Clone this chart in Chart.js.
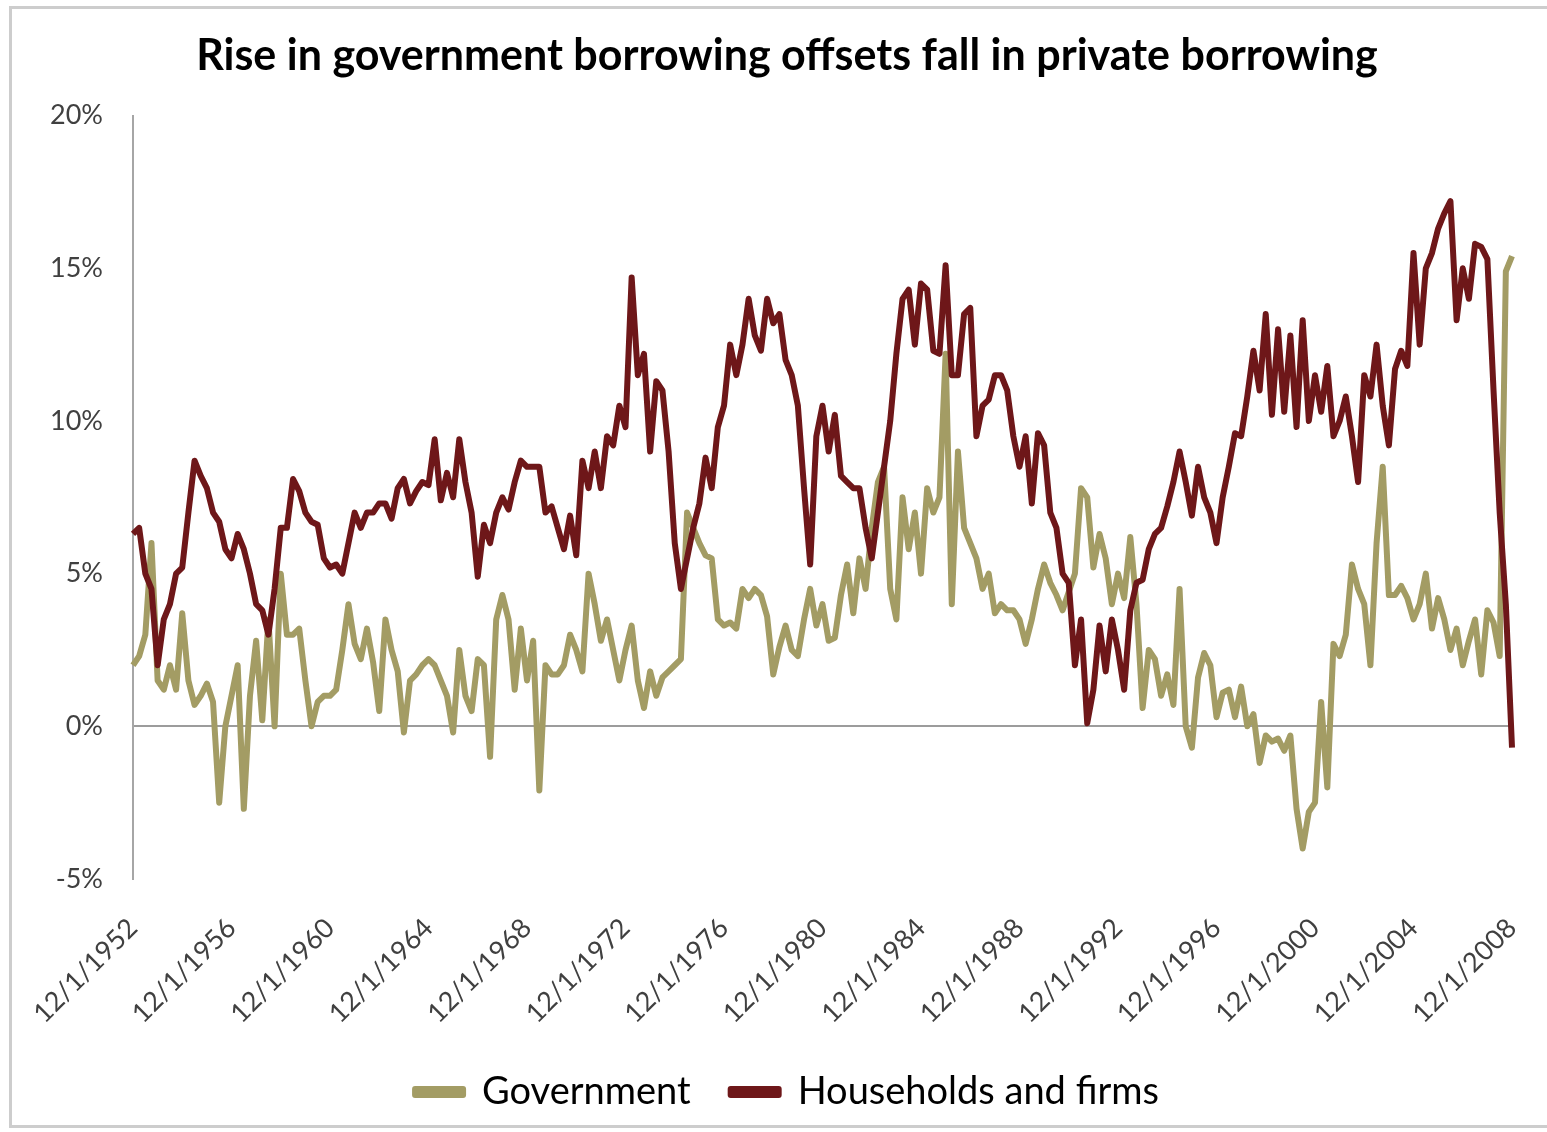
<!DOCTYPE html>
<html>
<head>
<meta charset="utf-8">
<script src="https://cdn.jsdelivr.net/npm/chart.js@4.4.1/dist/chart.umd.min.js"></script>
<style>
  body { margin: 0; background: #fff; overflow: hidden; }
  #wrap { position: relative; width: 1547px; height: 1132px; overflow: hidden; }
  #frame { position: absolute; left: 9px; top: 6px; width: 1560px; height: 1122px;
           border: 3px solid #cdcdcd; border-right: none; box-sizing: border-box; pointer-events: none; }
</style>
</head>
<body>
<div id="wrap">
  <canvas id="chart" width="1547" height="1132"></canvas>
  <div id="frame"></div>
</div>
<script>
// quarterly, 12/1/1952 .. 12/1/2008, annual growth rate in %
var firstYear = 1952;
var quarterMonths = [12, 3, 6, 9];
var labelEvery = 16;

var government = [
  2, 2.3, 3, 6, 1.5, 1.2, 2, 1.2, 3.7, 1.5, 0.7, 1, 1.4, 0.8, -2.5, 0,
  1, 2, -2.7, 1, 2.8, 0.2, 3.5, 0, 5, 3, 3, 3.2, 1.5, 0, 0.8, 1,
  1, 1.2, 2.5, 4, 2.7, 2.2, 3.2, 2.1, 0.5, 3.5, 2.5, 1.8, -0.2, 1.5, 1.7, 2,
  2.2, 2, 1.5, 1, -0.2, 2.5, 1, 0.5, 2.2, 2, -1, 3.5, 4.3, 3.5, 1.2, 3.2,
  1.5, 2.8, -2.1, 2, 1.7, 1.7, 2, 3, 2.5, 1.8, 5, 4, 2.8, 3.5, 2.5, 1.5,
  2.5, 3.3, 1.5, 0.6, 1.8, 1, 1.6, 1.8, 2, 2.2, 7, 6.5, 6, 5.6, 5.5, 3.5,
  3.3, 3.4, 3.2, 4.5, 4.2, 4.5, 4.3, 3.6, 1.7, 2.6, 3.3, 2.5, 2.3, 3.5, 4.5, 3.3,
  4, 2.8, 2.9, 4.3, 5.3, 3.7, 5.5, 4.5, 6.5, 8, 8.5, 4.5, 3.5, 7.5, 5.8, 7,
  5, 7.8, 7, 7.5, 12.2, 4, 9, 6.5, 6, 5.5, 4.5, 5, 3.7, 4, 3.8, 3.8,
  3.5, 2.7, 3.5, 4.5, 5.3, 4.7, 4.3, 3.8, 4.4, 5, 7.8, 7.5, 5.2, 6.3, 5.5, 4,
  5, 4.2, 6.2, 4, 0.6, 2.5, 2.2, 1, 1.7, 0.7, 4.5, 0, -0.7, 1.6, 2.4, 2,
  0.3, 1.1, 1.2, 0.3, 1.3, 0, 0.4, -1.2, -0.3, -0.5, -0.4, -0.8, -0.3, -2.7, -4, -2.8,
  -2.5, 0.8, -2, 2.7, 2.3, 3, 5.3, 4.5, 4, 2, 6, 8.5, 4.3, 4.3, 4.6, 4.2,
  3.5, 4, 5, 3.2, 4.2, 3.5, 2.5, 3.2, 2, 2.8, 3.5, 1.7, 3.8, 3.4, 2.3, 14.9,
  15.4
];

var households = [
  6.3, 6.5, 5, 4.5, 2, 3.5, 4, 5, 5.2, 7, 8.7, 8.2, 7.8, 7, 6.7, 5.8,
  5.5, 6.3, 5.8, 5, 4, 3.8, 3, 4.5, 6.5, 6.5, 8.1, 7.7, 7, 6.7, 6.6, 5.5,
  5.2, 5.3, 5, 6, 7, 6.5, 7, 7, 7.3, 7.3, 6.8, 7.8, 8.1, 7.3, 7.7, 8,
  7.9, 9.4, 7.4, 8.3, 7.5, 9.4, 8, 7, 4.9, 6.6, 6, 7, 7.5, 7.1, 8, 8.7,
  8.5, 8.5, 8.5, 7, 7.2, 6.5, 5.8, 6.9, 5.6, 8.7, 7.8, 9, 7.8, 9.5, 9.2, 10.5,
  9.8, 14.7, 11.5, 12.2, 9, 11.3, 11, 9, 6, 4.5, 5.5, 6.5, 7.3, 8.8, 7.8, 9.8,
  10.5, 12.5, 11.5, 12.5, 14, 12.8, 12.3, 14, 13.2, 13.5, 12, 11.5, 10.5, 7.8, 5.3, 9.5,
  10.5, 9, 10.2, 8.2, 8, 7.8, 7.8, 6.5, 5.5, 7, 8.5, 10, 12.2, 14, 14.3, 12.5,
  14.5, 14.3, 12.3, 12.2, 15.1, 11.5, 11.5, 13.5, 13.7, 9.5, 10.5, 10.7, 11.5, 11.5, 11, 9.5,
  8.5, 9.5, 7.3, 9.6, 9.2, 7, 6.5, 5, 4.7, 2, 3.5, 0.1, 1.2, 3.3, 1.8, 3.5,
  2.5, 1.2, 3.8, 4.7, 4.8, 5.8, 6.3, 6.5, 7.2, 8, 9, 8, 6.9, 8.5, 7.5, 7,
  6, 7.5, 8.5, 9.6, 9.5, 10.8, 12.3, 11, 13.5, 10.2, 13, 10.3, 12.8, 9.8, 13.3, 10,
  11.5, 10.3, 11.8, 9.5, 10, 10.8, 9.5, 8, 11.5, 10.8, 12.5, 10.5, 9.2, 11.7, 12.3, 11.8,
  15.5, 12.5, 15, 15.5, 16.3, 16.8, 17.2, 13.3, 15, 14, 15.8, 15.7, 15.3, 11, 7, 4,
  -0.7
];

var yMin = -5, yMax = 20, yStep = 5;

var quarters = [];
for (var i = 0; i < government.length; i++) {
  var yr = firstYear + Math.floor((i + 3) / 4);
  quarters.push(quarterMonths[i % 4] + '/1/' + yr);
}

var ctx = document.getElementById('chart').getContext('2d');
var chart = new Chart(ctx, {
  type: 'line',
  data: {
    labels: quarters,
    datasets: [{
      label: 'Households and firms',
      data: households,
      borderColor: '#6e1719',
      backgroundColor: '#6e1719',
      borderWidth: 6
    }, {
      label: 'Government',
      data: government,
      borderColor: '#a39c64',
      backgroundColor: '#a39c64',
      borderWidth: 6
    }]
  },
  options: {
    responsive: false,
    animation: false,
    // right padding is negative so title and legend sit a bit right of centre, as in the original;
    // the empty right axis below gives the plot its right margin back
    layout: { padding: { left: 10, right: -17, top: 4, bottom: 11 } },
    elements: { point: { radius: 0 }, line: { tension: 0, borderJoinStyle: 'round' } },
    plugins: {
      title: {
        display: true,
        text: 'Rise in government borrowing offsets fall in private borrowing',
        color: '#000',
        font: { family: 'Lato', size: 43, weight: 'bold' },
        padding: { top: 26, bottom: 34 }
      },
      legend: {
        position: 'bottom',
        reverse: true,
        labels: {
          color: '#000',
          font: { family: 'Lato', size: 38 },
          boxWidth: 48,
          boxHeight: 6,
          padding: 40
        }
      },
      tooltip: { enabled: false }
    },
    scales: {
      x: {
        grid: { display: false, drawTicks: false },
        border: { display: false },
        ticks: {
          autoSkip: false,
          maxRotation: 45,
          minRotation: 45,
          padding: 33,
          color: '#404040',
          font: { family: 'Lato', size: 27 },
          callback: function (val, index) {
            return index % labelEvery === 0 ? this.getLabelForValue(val) : '';
          }
        },
        afterFit: function (scale) {
          scale.height = 154;
          scale.paddingLeft = 0;
          scale.paddingRight = 0;
        }
      },
      y: {
        min: yMin,
        max: yMax,
        ticks: {
          stepSize: yStep,
          padding: 30,
          color: '#404040',
          font: { family: 'Lato', size: 27 },
          callback: function (v) { return v + '%'; }
        },
        grid: {
          drawTicks: false,
          lineWidth: 2,
          color: function (c) { return c.tick && c.tick.value === 0 ? '#9c9c9c' : 'rgba(0,0,0,0)'; }
        },
        border: { color: '#a6a6a6', width: 2 },
        afterFit: function (scale) { scale.width = 123; }
      },
      spacer: {
        type: 'linear',
        position: 'right',
        grid: { display: false, drawTicks: false },
        border: { display: false },
        ticks: { display: false },
        afterFit: function (scale) { scale.width = 52; }
      }
    }
  }
});
</script>
</body>
</html>
